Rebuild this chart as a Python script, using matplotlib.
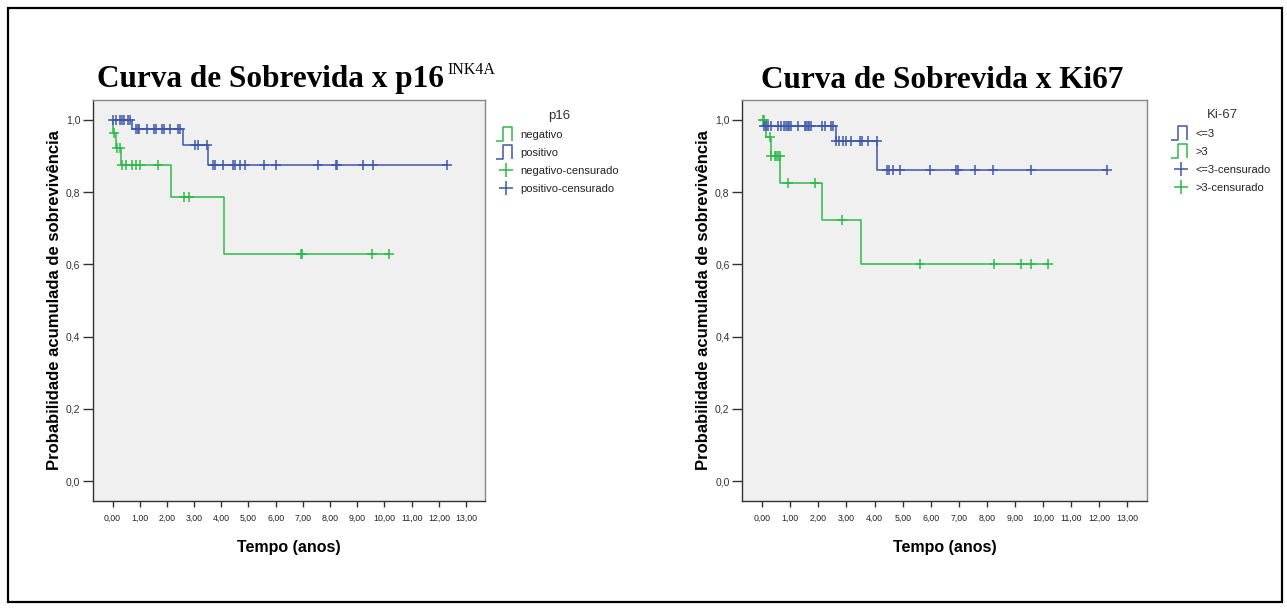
import numpy as np
import matplotlib
matplotlib.use("Agg")
import matplotlib.pyplot as plt
from matplotlib.lines import Line2D
from matplotlib.path import Path
from matplotlib.patches import Rectangle
from matplotlib.font_manager import FontProperties

# ---------------- data ----------------
# p16 panel
p16_neg_event_t = [0.0, 0.02, 0.12, 0.31, 2.15, 4.11]
p16_neg_surv = [1.0, 0.963, 0.921, 0.875, 0.787, 0.630]
p16_neg_censor_t = [0.06, 0.15, 0.27, 0.33, 0.51, 0.70, 0.88, 1.00, 1.68,
                    2.64, 2.81, 6.92, 6.98, 9.55, 10.18]

p16_pos_event_t = [0.0, 0.70, 2.60, 3.52]
p16_pos_surv = [1.0, 0.975, 0.931, 0.875]
p16_pos_censor_t = [0.02, 0.12, 0.27, 0.35, 0.43, 0.55, 0.64,
                    0.86, 0.92, 0.98, 1.25, 1.52, 1.58, 1.80, 1.90, 2.13, 2.41, 2.48,
                    3.03, 3.13, 3.46,
                    3.68, 3.76, 4.07, 4.44, 4.50, 4.68, 4.87, 5.58, 6.00, 7.57,
                    8.22, 8.24, 9.22, 9.59, 12.29]

# Ki67 panel
ki_le3_event_t = [0.0, 2.61, 4.10]
ki_le3_surv = [0.983, 0.941, 0.861]
ki_le3_censor_t = [0.08, 0.14, 0.20, 0.32, 0.56, 0.68, 0.79, 0.85, 0.91, 0.97, 1.03,
                   1.27, 1.51, 1.57, 1.62, 1.68, 1.74, 2.14, 2.22, 2.46, 2.52,
                   2.63, 2.75, 2.87, 2.99, 3.17, 3.47, 3.56, 3.76, 4.08,
                   4.45, 4.51, 4.65, 4.89, 5.99, 6.91, 6.97, 7.56, 8.21, 9.56, 12.29]

ki_gt3_event_t = [0.0, 0.12, 0.30, 0.65, 2.14, 3.52]
ki_gt3_surv = [1.0, 0.952, 0.900, 0.825, 0.723, 0.602]
ki_gt3_censor_t = [0.02, 0.05, 0.26, 0.32, 0.44, 0.50, 0.56, 0.62,
                   0.91, 1.89, 2.85, 5.60, 8.27, 9.22, 9.58, 10.17]

x_ticks = list(range(0, 14))
x_tick_labels = ["%d,00" % v for v in x_ticks]
y_ticks = [0.0, 0.2, 0.4, 0.6, 0.8, 1.0]
y_tick_labels = ["0,0", "0,2", "0,4", "0,6", "0,8", "1,0"]

BLUE = "#3E58AC"
GREEN = "#2EB848"
BG = "#F0F0F0"

SANS = ["Liberation Sans", "DejaVu Sans"]

W, H = 1287, 610
fig = plt.figure(figsize=(W / 100, H / 100), dpi=100)


def fx(px):
    return px / W


def fy(py):
    return 1 - py / H


def surv_at(t, ev_t, surv):
    idx = np.searchsorted(np.asarray(ev_t), np.asarray(t), side="right") - 1
    return np.asarray(surv)[idx]


def km(ax, ev_t, surv, cens_t, color):
    t_end = max(max(cens_t), max(ev_t))
    xs = list(ev_t) + [t_end]
    ys = list(surv) + [surv[-1]]
    ax.step(xs, ys, where="post", color=color, lw=1.1, zorder=3)
    ax.plot(cens_t, surv_at(cens_t, ev_t, surv), linestyle="none", marker="+",
            color=color, markersize=7, mew=1.1, zorder=4)


def style_axes(ax):
    ax.set_facecolor(BG)
    ax.set_xlim(-0.72, 13.7)
    ax.set_ylim(-0.055, 1.055)
    ax.set_xticks(x_ticks)
    ax.set_xticklabels(x_tick_labels, family=SANS, fontsize=6.3, color="#222222")
    ax.set_yticks(y_ticks)
    ax.set_yticklabels(y_tick_labels, family=SANS, fontsize=7.5, color="#333333")
    ax.tick_params(axis="y", direction="out", length=7, width=1.0, color="#333333", pad=2)
    ax.tick_params(axis="x", direction="out", length=4.5, width=1.0, color="#333333", pad=5)
    for s in ["left", "bottom"]:
        ax.spines[s].set_color("#333333")
        ax.spines[s].set_linewidth(1.0)
    for s in ["top", "right"]:
        ax.spines[s].set_color("#888888")
        ax.spines[s].set_linewidth(1.0)
    ax.set_xlabel("Tempo (anos)", family=SANS, fontweight="bold", fontsize=11.5, labelpad=12)
    ax.set_ylabel("Probabilidade acumulada de sobrevivência", family=SANS,
                  fontweight="bold", fontsize=12, labelpad=3)


step_path = Path([(-1.0, -0.75), (-0.3, -0.75), (-0.3, 0.75), (0.6, 0.75), (0.6, -0.75)],
                 [Path.MOVETO, Path.LINETO, Path.LINETO, Path.LINETO, Path.LINETO])


def step_handle(color, label):
    return Line2D([], [], color=color, marker=step_path, linestyle="none", markersize=14,
                  markerfacecolor="none", markeredgecolor=color, mew=1.1, label=label)


def cens_handle(color, label):
    return Line2D([], [], color=color, marker="+", linestyle="none", markersize=10,
                  mew=1.1, label=label)


def add_legend(ax, handles, title, x_px, y_px):
    leg = ax.legend(handles=handles, title=title, loc="upper left",
                    bbox_to_anchor=(fx(x_px), fy(y_px)), bbox_transform=fig.transFigure,
                    frameon=False, prop=FontProperties(family=SANS, size=8),
                    title_fontproperties=FontProperties(family=SANS, size=9.5),
                    handlelength=1.3, handletextpad=0.6, labelspacing=0.72,
                    borderpad=0, borderaxespad=0, numpoints=1)
    for t in leg.get_texts():
        t.set_color("#222222")
    leg.get_title().set_color("#333333")
    return leg


# ---------------- left panel ----------------
ax1 = fig.add_axes([fx(93), fy(501), fx(485) - fx(93), fy(100) - fy(501)])
style_axes(ax1)
km(ax1, p16_neg_event_t, p16_neg_surv, p16_neg_censor_t, GREEN)
km(ax1, p16_pos_event_t, p16_pos_surv, p16_pos_censor_t, BLUE)
add_legend(ax1, [step_handle(GREEN, "negativo"), step_handle(BLUE, "positivo"),
                 cens_handle(GREEN, "negativo-censurado"), cens_handle(BLUE, "positivo-censurado")],
           "p16", 499, 110)

# ---------------- right panel ----------------
ax2 = fig.add_axes([fx(742), fy(501), fx(1147) - fx(742), fy(100) - fy(501)])
style_axes(ax2)
km(ax2, ki_gt3_event_t, ki_gt3_surv, ki_gt3_censor_t, GREEN)
km(ax2, ki_le3_event_t, ki_le3_surv, ki_le3_censor_t, BLUE)
add_legend(ax2, [step_handle(BLUE, "<=3"), step_handle(GREEN, ">3"),
                 cens_handle(BLUE, "<=3-censurado"), cens_handle(GREEN, ">3-censurado")],
           "Ki-67", 1174, 109)

# ---------------- titles ----------------
SERIF = ["Liberation Serif", "DejaVu Serif"]
t1 = fig.text(fx(97), fy(87), "Curva de Sobrevida x p16", family=SERIF, fontweight="bold",
              fontsize=22.5, ha="left", va="baseline")
fig.canvas.draw()
bb = t1.get_window_extent(renderer=fig.canvas.get_renderer())
fig.text(bb.x1 / W + fx(4), fy(74), "INK4A", family=SERIF, fontsize=11.5,
         ha="left", va="baseline")
fig.text(fx(942), fy(88), "Curva de Sobrevida x Ki67", family=SERIF, fontweight="bold",
         fontsize=22.5, ha="center", va="baseline")

# outer frame
fig.patches.append(Rectangle((fx(8), fy(602)), fx(1282) - fx(8), fy(8) - fy(602),
                             transform=fig.transFigure, fill=False, edgecolor="black",
                             linewidth=1.6))

fig.savefig("out.png", dpi=100)
